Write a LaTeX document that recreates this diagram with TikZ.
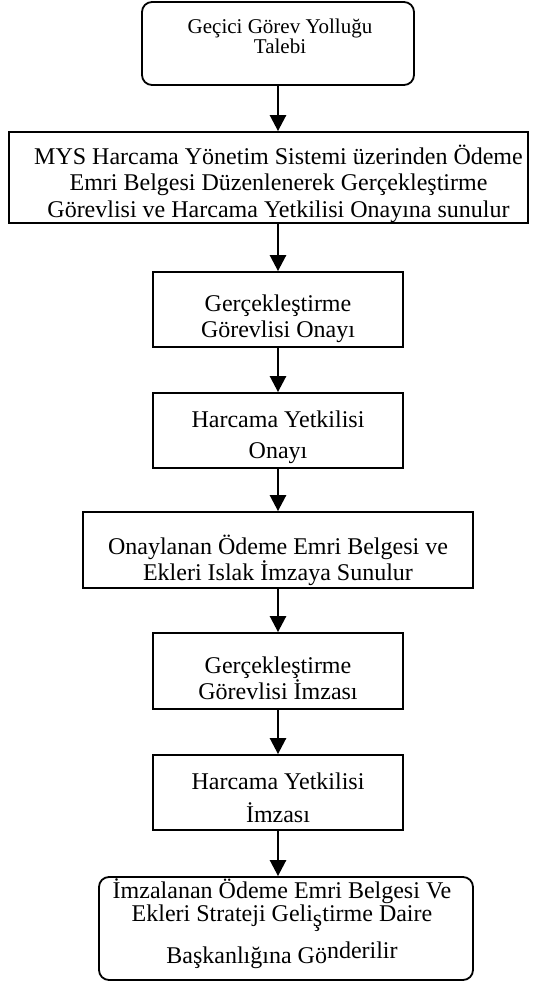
\documentclass[tikz,border=0pt]{standalone}
\usepackage{fontspec}
\setmainfont{Liberation Serif}
\usetikzlibrary{arrows.meta}
\tikzset{
	kutu/.style={draw, line width=1.8pt, inner sep=0pt},
	yuvarlak/.style={kutu, rounded corners=10pt},
	yazi/.style={anchor=base, align=center, inner sep=0pt, font=\fontsize{24}{#1}\selectfont},
	ok/.style={line width=2.6pt, -{Triangle[width=16pt,length=16pt]}}
}

\begin{document}
\begin{tikzpicture}[x=1pt,y=-1pt]
	\useasboundingbox (0,0) rectangle (541,983);
	% kutular
	\node[yuvarlak, minimum width=272pt, minimum height=83pt] (k1) at (278,43.5) {};
	\node[kutu, minimum width=519pt, minimum height=91pt] (k2) at (268.5,177.5) {};
	\node[kutu, minimum width=250pt, minimum height=75pt] (k3) at (278,309.5) {};
	\node[kutu, minimum width=250pt, minimum height=75pt] (k4) at (278,430.5) {};
	\node[kutu, minimum width=390pt, minimum height=76pt] (k5) at (278,550) {};
	\node[kutu, minimum width=250pt, minimum height=76pt] (k6) at (278,671) {};
	\node[kutu, minimum width=250pt, minimum height=75pt] (k7) at (278,792.5) {};
	\node[yuvarlak, minimum width=374pt, minimum height=103pt] (k8) at (286,928.5) {};

	% yazilar (son satirin tabanina gore)
	\node[yazi=20, font=\fontsize{21}{20}\selectfont] (t1) at (280,53) {Geçici Görev Yolluğu\\Talebi};
	\node[yazi=26.5] (t2) at (278.5,217) {MYS Harcama Yönetim Sistemi üzerinden Ödeme\\Emri Belgesi Düzenlenerek Gerçekleştirme\\Görevlisi ve Harcama Yetkilisi Onayına sunulur};
	\node[yazi=26] (t3) at (278,337) {Gerçekleştirme\\Görevlisi Onayı};
	\node[yazi=31] (t4) at (278,458) {Harcama Yetkilisi\\Onayı};
	\node[yazi=23] (t5) at (278,580) {Onaylanan Ödeme Emri Belgesi ve\\Ekleri Islak İmzaya Sunulur};
	\node[yazi=26] (t6) at (278,699) {Gerçekleştirme\\Görevlisi İmzası};
	\node[yazi=33] (t7) at (278,822) {Harcama Yetkilisi\\İmzası};
	\node[yazi=21] (t8) at (282,963) {İmzalanan Ödeme Emri Belgesi Ve\\Ekleri Strateji Geli\raisebox{-5pt}{ş}tirme Daire\\[9pt]Başkanlığına Gö\raisebox{5pt}{nderilir}};

	% oklar
	\draw[ok] (k1.south) -- (k2.north -| k1.south);
	\draw[ok] (k2.south -| k3.north) -- (k3.north);
	\foreach \a/\b in {k3/k4,k4/k5,k5/k6,k6/k7,k7/k8}
		\draw[ok] (\a.south) -- (\b.north -| \a.south);
\end{tikzpicture}
\end{document}
